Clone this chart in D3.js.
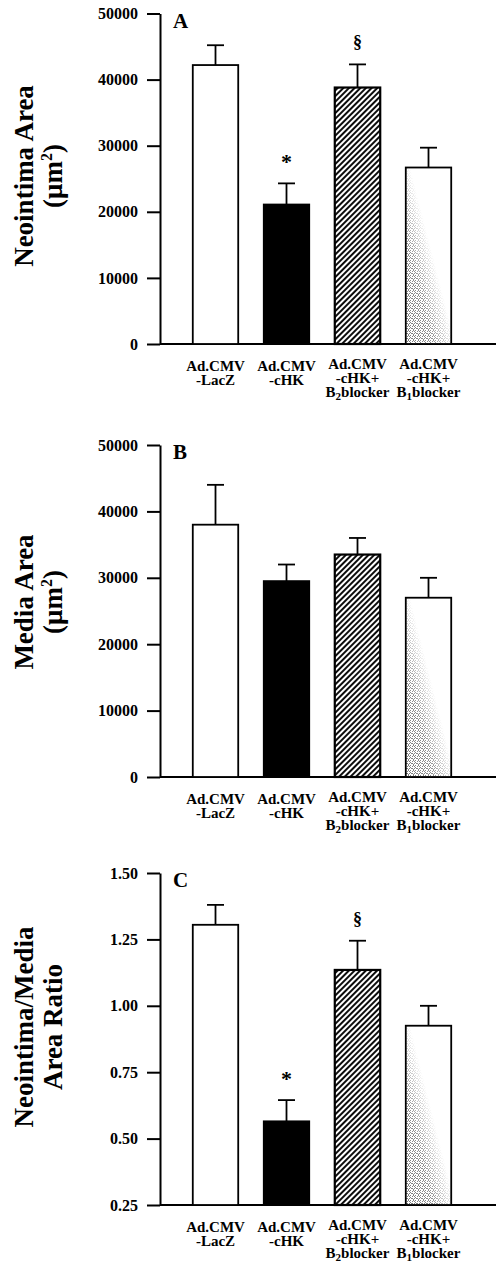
<!DOCTYPE html>
<html><head><meta charset="utf-8">
<script src="https://cdn.jsdelivr.net/npm/d3@7"></script>
<style>body{margin:0;background:#fff}svg{display:block}</style>
</head><body>
<script>
// ---- data ----
const groups = ["LacZ", "cHK", "cHK+B2", "cHK+B1"];
const labelLine1 = ["Ad.CMV", "Ad.CMV", "Ad.CMV", "Ad.CMV"];
const labelLine2 = ["-LacZ", "-cHK", "-cHK+", "-cHK+"];
const labelLine3 = [null, null, ["B", "2", "blocker"], ["B", "1", "blocker"]];

const neointimaMean = [42200, 21100, 38800, 26700];
const neointimaErr  = [3000, 3200, 3500, 3000];
const mediaMean     = [38000, 29500, 33500, 27000];
const mediaErr      = [6000, 2500, 2500, 3000];
const ratioMean     = [1.305, 0.565, 1.135, 0.925];
const ratioErr      = [0.075, 0.08, 0.11, 0.075];

const neointimaMarks = ["", "*", "§", ""];
const mediaMarks     = ["", "", "", ""];
const ratioMarks     = ["", "*", "§", ""];

const areaTicks  = [0, 10000, 20000, 30000, 40000, 50000];
const ratioTicks = [0.25, 0.50, 0.75, 1.00, 1.25, 1.50];

const fills = ["white", "black", "url(#hatch)", "url(#stipple)"];

// ---- layout ----
const W = 496, H = 1263;
const axisX = 160;
const font = "'Liberation Serif', 'Times New Roman', serif";

const panels = [
  {letter: "A", mean: neointimaMean, err: neointimaErr, marks: neointimaMarks,
   domain: [0, 50000], ticks: areaTicks, fmt: d3.format("d"),
   top: 13.5, bottom: 344, title: ["Neointima Area", "(μm|2|)"], titleY: 176},
  {letter: "B", mean: mediaMean, err: mediaErr, marks: mediaMarks,
   domain: [0, 50000], ticks: areaTicks, fmt: d3.format("d"),
   top: 445, bottom: 777, title: ["Media Area", "(μm|2|)"], titleY: 602},
  {letter: "C", mean: ratioMean, err: ratioErr, marks: ratioMarks,
   domain: [0.25, 1.5], ticks: ratioTicks, fmt: d3.format(".2f"),
   top: 873, bottom: 1205, title: ["Neointima/Media", "Area Ratio"], titleY: 1027}
];

const svg = d3.select("body").append("svg").attr("width", W).attr("height", H)
  .style("font-family", font);

const defs = svg.append("defs");
const hatch = defs.append("pattern").attr("id", "hatch").attr("patternUnits", "userSpaceOnUse")
  .attr("width", 4).attr("height", 4).attr("patternTransform", "rotate(45)");
hatch.append("rect").attr("width", 4).attr("height", 4).attr("fill", "white");
hatch.append("line").attr("x1", 1).attr("x2", 1).attr("y1", 0).attr("y2", 4)
  .attr("stroke", "black").attr("stroke-width", 1.9);

const stip = defs.append("pattern").attr("id", "stipDots").attr("patternUnits", "userSpaceOnUse")
  .attr("width", 5).attr("height", 5);
stip.append("rect").attr("width", 5).attr("height", 5).attr("fill", "white");
[[0,0],[2,1],[4,3],[1,3],[3,4],[0,2],[3,0],[4,1],[2,3]].forEach(([a,b]) =>
  stip.append("rect").attr("x", a).attr("y", b).attr("width", 1).attr("height", 1).attr("fill", "#7a7a7a"));
const grad = defs.append("linearGradient").attr("id", "stipGrad")
  .attr("x1", 0).attr("y1", 1).attr("x2", 1).attr("y2", 0);
grad.append("stop").attr("offset", 0).attr("stop-color", "white").attr("stop-opacity", 0);
grad.append("stop").attr("offset", 0.3).attr("stop-color", "white").attr("stop-opacity", 0.15);
grad.append("stop").attr("offset", 0.55).attr("stop-color", "white").attr("stop-opacity", 1);

const x = d3.scaleBand().domain(groups).range([180, 464]).paddingInner(0.36).paddingOuter(0.18);

function subText(sel, str, big, small) {
  const parts = str.split("|");
  sel.append("tspan").text(parts[0]);
  if (parts.length > 1) {
    sel.append("tspan").attr("font-size", small).attr("dy", -big * 0.38).text(parts[1]);
    sel.append("tspan").attr("dy", big * 0.38).text(parts[2]);
  }
}

panels.forEach(p => {
  const y = d3.scaleLinear().domain(p.domain).range([p.bottom, p.top]);
  const g = svg.append("g");

  // y axis
  const ax = g.append("g").attr("transform", `translate(${axisX},0)`)
    .call(d3.axisLeft(y).tickValues(p.ticks).tickFormat(p.fmt).tickSize(13).tickSizeOuter(0).tickPadding(9));
  ax.select(".domain").attr("stroke-width", 2);
  ax.selectAll(".tick line").attr("stroke-width", 2);
  ax.selectAll(".tick text").attr("font-size", 16).attr("font-weight", "bold")
    .attr("font-family", font).attr("fill", "#000");

  // x axis line
  g.append("line").attr("x1", axisX).attr("x2", W).attr("y1", y(p.domain[0])).attr("y2", y(p.domain[0]))
    .attr("stroke", "black").attr("stroke-width", 2);

  // panel letter
  g.append("text").attr("x", 173).attr("y", p.top + 14).attr("font-size", 21).attr("font-weight", "bold")
    .text(p.letter);

  // bars
  groups.forEach((k, i) => {
    const bx = x(k), bw = x.bandwidth();
    const yt = y(p.mean[i]), yb = y(p.domain[0]);
    if (i === 3) {
      g.append("rect").attr("x", bx).attr("y", yt).attr("width", bw).attr("height", yb - yt)
        .attr("fill", "url(#stipDots)");
      g.append("rect").attr("x", bx).attr("y", yt).attr("width", bw).attr("height", yb - yt)
        .attr("fill", "url(#stipGrad)");
      g.append("rect").attr("x", bx).attr("y", yt).attr("width", bw).attr("height", yb - yt)
        .attr("fill", "none").attr("stroke", "black").attr("stroke-width", 1.8);
    } else {
      g.append("rect").attr("x", bx).attr("y", yt).attr("width", bw).attr("height", yb - yt)
        .attr("fill", fills[i]).attr("stroke", "black").attr("stroke-width", i === 2 ? 2.2 : 1.8);
    }
    const cx = bx + bw / 2, ye = y(p.mean[i] + p.err[i]);
    g.append("line").attr("x1", cx).attr("x2", cx).attr("y1", yt).attr("y2", ye)
      .attr("stroke", "black").attr("stroke-width", 1.8);
    g.append("line").attr("x1", cx - 8.5).attr("x2", cx + 8.5).attr("y1", ye).attr("y2", ye)
      .attr("stroke", "black").attr("stroke-width", 1.8);
    if (p.marks[i]) {
      g.append("text").attr("x", cx).attr("y", ye - 22).attr("text-anchor", "middle")
        .attr("dominant-baseline", "central").attr("font-weight", "bold")
        .attr("font-size", p.marks[i] === "*" ? 22 : 18).text(p.marks[i]);
    }
    // x labels
    const base = y(p.domain[0]) + (i >= 2 ? 25 : 27);
    const lab = g.append("g").attr("font-size", 15).attr("font-weight", "bold").attr("text-anchor", "middle");
    lab.append("text").attr("x", cx).attr("y", base).text(labelLine1[i]);
    lab.append("text").attr("x", cx).attr("y", base + 14).text(labelLine2[i]);
    if (labelLine3[i]) {
      const t = lab.append("text").attr("x", cx).attr("y", base + 28);
      t.append("tspan").text(labelLine3[i][0]);
      t.append("tspan").attr("font-size", 11).attr("dy", 3).text(labelLine3[i][1]);
      t.append("tspan").attr("dy", -3).text(labelLine3[i][2]);
    }
  });

  // y title
  const tg = g.append("g").attr("transform", `translate(0,${p.titleY}) rotate(-90)`)
    .attr("font-weight", "bold").attr("font-size", 27).attr("text-anchor", "middle");
  const t1 = tg.append("text").attr("x", 0).attr("y", 33);
  subText(t1, p.title[0], 27, 16);
  const t2 = tg.append("text").attr("x", 0).attr("y", 62);
  subText(t2, p.title[1], 27, 16);
});
</script>
</body></html>
